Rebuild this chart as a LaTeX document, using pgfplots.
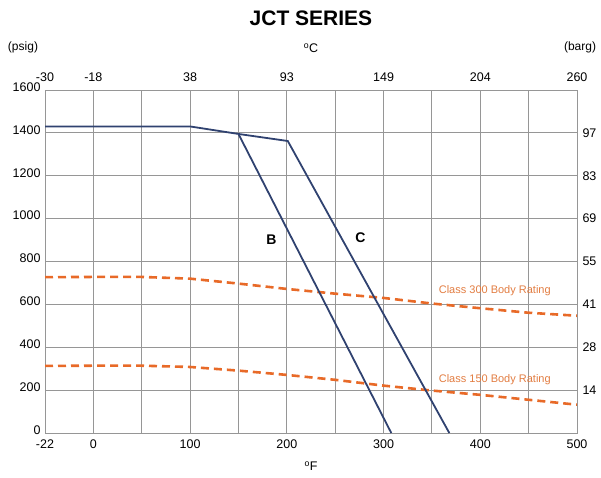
\documentclass[border=0pt]{standalone}
\usepackage{pgfplots}
\pgfplotsset{compat=1.18}
\usepackage{fontspec}
\setmainfont{Liberation Sans}

\definecolor{navy}{RGB}{48,66,112}
\definecolor{rating}{RGB}{232,106,40}
\definecolor{ratingtxt}{RGB}{226,125,66}
\definecolor{gridc}{RGB}{150,150,150}

\pgfplotsset{
  jct/.style={
    at={(45pt,44pt)}, anchor=south west,
    scale only axis, width=532pt, height=343pt,
    xmin=-50, xmax=500, ymin=0, ymax=1600,
    major tick length=0pt,
    tick label style={font=\fontsize{12.5}{13}\selectfont},
    axis line style={gridc, line width=0.9pt},
  }
}

\begin{document}
\begin{tikzpicture}
  \path[use as bounding box] (0,0) rectangle (601pt,477pt);

  % bottom / left axes (degF, psig)
  \begin{axis}[jct,
    grid=major,
    grid style={gridc, line width=0.9pt},
    xtick={-50,0,50,100,150,200,250,300,350,400,450,500},
    xticklabels={-22,0,,100,,200,,300,,400,,500},
    ytick={0,200,400,600,800,1000,1200,1400,1600},
    yticklabels={0,200,400,600,800,1000,1200,1400,1600},
    xticklabel style={yshift=-3pt},
    yticklabel style={yshift=3pt, xshift=-1pt},
  ]
    % class ratings
    \addplot[rating, line width=2.6pt, dash pattern=on 8pt off 5pt] coordinates {
      (-50,727) (0,728) (50,728) (100,720) (150,697) (200,672)
      (250,650) (300,630) (350,604) (400,582) (450,561) (500,547)
    };
    \addplot[rating, line width=2.6pt, dash pattern=on 8pt off 5pt] coordinates {
      (-50,313) (0,314) (50,314) (100,308) (150,291) (200,271)
      (250,248) (300,221) (350,198) (400,178) (450,155) (500,132)
    };
    % seat ratings
    \addplot[navy, line width=1.8pt] coordinates {
      (-50,1430) (100,1430) (150,1395) (308,0)
    };
    \addplot[navy, line width=1.8pt] coordinates {
      (150,1395) (201,1362) (368,0)
    };
    \node[font=\bfseries\fontsize{14}{14}\selectfont] at (axis cs:184,900) {B};
    \node[font=\bfseries\fontsize{14}{14}\selectfont] at (axis cs:276,910) {C};
    \node[text=ratingtxt, font=\fontsize{11}{11}\selectfont] at (axis cs:415,662) {Class 300 Body Rating};
    \node[text=ratingtxt, font=\fontsize{11}{11}\selectfont] at (axis cs:415,247) {Class 150 Body Rating};
  \end{axis}

  % top / right axes (degC, barg)
  \begin{axis}[jct,
    axis x line*=top, axis y line*=right,
    xtick={-50,0,50,100,150,200,250,300,350,400,450,500},
    xticklabels={-30,-18,,38,,93,,149,,204,,260},
    ytick={200,400,600,800,1000,1200,1400},
    yticklabels={14,28,41,55,69,83,97},
    xticklabel style={yshift=5pt},
    yticklabel style={xshift=2pt},
  ]
  \end{axis}

  \node[font=\bfseries\fontsize{21}{21}\selectfont] at (311pt,459pt) {JCT SERIES};
  \node[font=\fontsize{12.5}{13}\selectfont] at (311pt,429pt) {\textsuperscript{o}C};
  \node[font=\fontsize{12.5}{13}\selectfont] at (311pt,11pt) {\textsuperscript{o}F};
  \node[font=\fontsize{12}{13}\selectfont] at (23pt,430pt) {(psig)};
  \node[font=\fontsize{12}{13}\selectfont] at (580pt,430pt) {(barg)};
\end{tikzpicture}
\end{document}
